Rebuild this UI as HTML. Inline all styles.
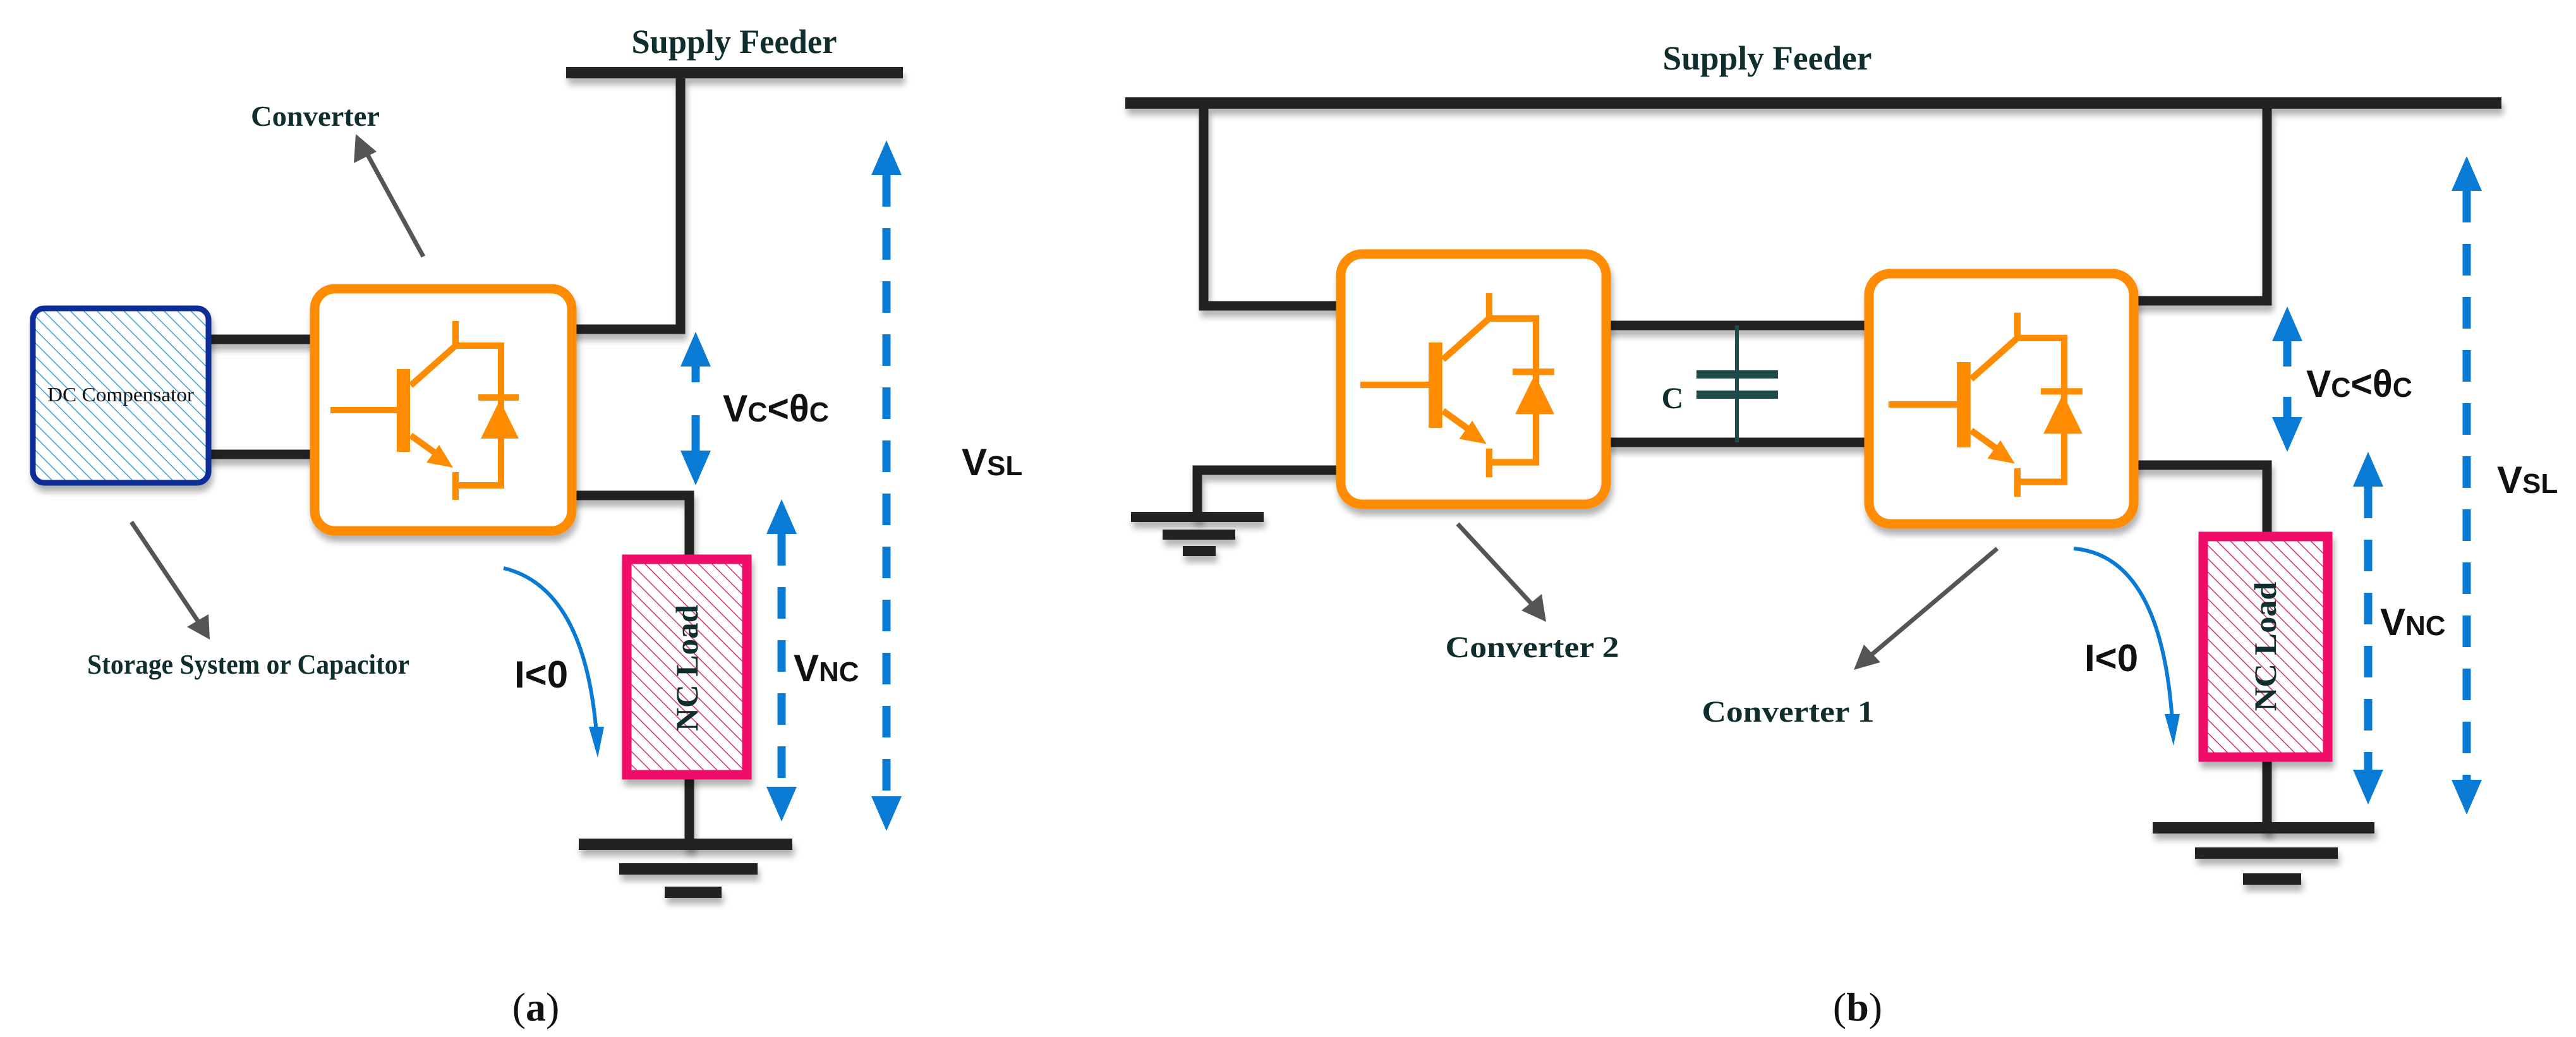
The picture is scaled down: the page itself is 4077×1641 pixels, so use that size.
<!DOCTYPE html>
<html><head><meta charset="utf-8"><style>
html,body{margin:0;padding:0;background:#fff;}
svg{display:block;}
.lbl{font-family:"Liberation Serif",serif;font-weight:bold;fill:#102e2e;}
.v{font-family:"Liberation Sans",sans-serif;font-weight:bold;fill:#111;}
</style></head><body>
<svg width="4077" height="1641" viewBox="0 0 4077 1641" xmlns="http://www.w3.org/2000/svg">
<defs>
<filter id="sh" x="-10%" y="-10%" width="120%" height="130%"><feDropShadow dx="3" dy="10" stdDeviation="5" flood-color="#000" flood-opacity="0.3"/></filter>
<pattern id="hb" patternUnits="userSpaceOnUse" width="15" height="15" patternTransform="rotate(-45)">
<rect width="15" height="15" fill="#fff"/><line x1="0" y1="0" x2="0" y2="15" stroke="#3a9fd8" stroke-width="3"/></pattern>
<pattern id="hp" patternUnits="userSpaceOnUse" width="15" height="15" patternTransform="rotate(-45)">
<rect width="15" height="15" fill="#fff"/><line x1="0" y1="0" x2="0" y2="15" stroke="#d83068" stroke-width="3"/></pattern>
<g id="igbt">
<g stroke="#ff8c00" stroke-width="10" fill="none">
<line x1="32" y1="199" x2="145" y2="199"/>
<line x1="159" y1="160" x2="230" y2="97"/>
<line x1="230" y1="97" x2="230" y2="58"/>
<polyline points="230,97 302,97 302,318 230,318"/>
<line x1="230" y1="297" x2="230" y2="341"/>
<line x1="159" y1="239" x2="205" y2="272"/>
<line x1="266" y1="179" x2="330" y2="179"/>
</g>
<rect x="137" y="134" width="21" height="131" fill="#ff8c00"/>
<polygon points="226,290 184,282 204,254" fill="#ff8c00"/>
<polygon points="300,183 270,244 330,244" fill="#ff8c00"/>
</g>
<g id="dn"><polygon points="-24,0 24,0 0,55" fill="#0a7bd4"/></g>
<g id="up"><polygon points="-24,0 24,0 0,-55" fill="#0a7bd4"/></g>
</defs>

<!-- ===== Panel (a) ===== -->
<text class="lbl" x="1162" y="84" font-size="54" text-anchor="middle" textLength="325" lengthAdjust="spacingAndGlyphs">Supply Feeder</text>
<g stroke="#222" stroke-width="15" fill="none" stroke-linecap="square" filter="url(#sh)">
<line x1="905" y1="115" x2="1420" y2="115" stroke-width="18"/>
<polyline points="912,521 1077,521 1077,116"/>
<line x1="334" y1="537" x2="491" y2="537"/>
<line x1="334" y1="719" x2="491" y2="719"/>
<polyline points="912,784 1091,784 1091,878"/>
<line x1="1091" y1="1233" x2="1091" y2="1336"/>
</g>
<g fill="#222" filter="url(#sh)">
<rect x="916" y="1327" width="338" height="18"/>
<rect x="980" y="1366" width="219" height="18"/>
<rect x="1052" y="1403" width="90" height="18"/>
</g>

<rect x="52" y="488" width="278" height="276" rx="18" fill="url(#hb)" stroke="#0b2f96" stroke-width="9" filter="url(#sh)"/>
<text x="191" y="635" font-family="Liberation Serif,serif" font-size="32" text-anchor="middle" fill="#111" textLength="232" lengthAdjust="spacingAndGlyphs">DC Compensator</text>

<rect x="498" y="457" width="407" height="383" rx="32" fill="#fff" stroke="#ff8c00" stroke-width="15" filter="url(#sh)"/>
<use href="#igbt" transform="translate(491,450)"/>

<rect x="992" y="885" width="190" height="341" fill="url(#hp)" stroke="#f0106a" stroke-width="15" filter="url(#sh)"/>
<text class="lbl" transform="translate(1104,1057) rotate(-90)" font-size="50" text-anchor="middle" fill="#111" textLength="200" lengthAdjust="spacingAndGlyphs">NC Load</text>

<text class="lbl" x="499" y="199" font-size="46" text-anchor="middle" textLength="204" lengthAdjust="spacingAndGlyphs">Converter</text>
<line x1="670" y1="406" x2="578" y2="238" stroke="#555" stroke-width="7"/>
<polygon points="563,212 560,258 596,240" fill="#555"/>
<line x1="208" y1="826" x2="318" y2="990" stroke="#555" stroke-width="7"/>
<polygon points="332,1012 296,992 330,972" fill="#555"/>
<text class="lbl" x="393" y="1066" font-size="44" text-anchor="middle" textLength="510" lengthAdjust="spacingAndGlyphs">Storage System or Capacitor</text>

<line x1="1101" y1="570" x2="1101" y2="605" stroke="#0a7bd4" stroke-width="13"/>
<line x1="1101" y1="657" x2="1101" y2="715" stroke="#0a7bd4" stroke-width="13"/>
<use href="#up" transform="translate(1101,580)"/>
<use href="#dn" transform="translate(1101,713)"/>
<text class="v" x="1144" y="667" font-size="60" textLength="168" lengthAdjust="spacingAndGlyphs">V<tspan font-size="44">C</tspan>&lt;θ<tspan font-size="44">C</tspan></text>
<line x1="1237" y1="845" x2="1237" y2="1245" stroke="#0a7bd4" stroke-width="13" stroke-dasharray="50,34"/>
<use href="#up" transform="translate(1237,845)"/>
<use href="#dn" transform="translate(1237,1245)"/>
<text class="v" x="1256" y="1078" font-size="60">V<tspan font-size="44">NC</tspan></text>
<line x1="1403" y1="277" x2="1403" y2="1260" stroke="#0a7bd4" stroke-width="13" stroke-dasharray="50,34"/>
<use href="#up" transform="translate(1403,277)"/>
<use href="#dn" transform="translate(1403,1260)"/>
<text class="v" x="1522" y="752" font-size="60">V<tspan font-size="44">SL</tspan></text>
<path d="M797,899 Q925,930 944,1160" fill="none" stroke="#0a7bd4" stroke-width="6"/>
<polygon points="932,1150 956,1150 946,1199" fill="#0a7bd4"/>
<text class="v" x="814" y="1088" font-size="60">I&lt;0</text>

<text x="848" y="1615" font-family="Liberation Serif,serif" font-size="64" text-anchor="middle" fill="#111">(<tspan font-weight="bold">a</tspan>)</text>

<!-- ===== Panel (b) ===== -->
<text class="lbl" x="2797" y="110" font-size="54" text-anchor="middle" textLength="331" lengthAdjust="spacingAndGlyphs">Supply Feeder</text>
<g stroke="#222" stroke-width="15" fill="none" stroke-linecap="square" filter="url(#sh)">
<line x1="1790" y1="163" x2="3950" y2="163" stroke-width="18"/>
<polyline points="2115,484 1905,484 1905,163"/>
<polyline points="2115,744 1895,744 1895,815"/>
<line x1="2549" y1="515" x2="2951" y2="515"/>
<line x1="2549" y1="700" x2="2951" y2="700"/>
<polyline points="3384,476 3588,476 3588,163"/>
<polyline points="3384,736 3588,736 3588,842"/>
<line x1="3588" y1="1205" x2="3588" y2="1310"/>
</g>
<g fill="#222" filter="url(#sh)">
<rect x="1790" y="810" width="210" height="16"/>
<rect x="1840" y="838" width="115" height="16"/>
<rect x="1872" y="864" width="52" height="16"/>
<rect x="3407" y="1301" width="351" height="18"/>
<rect x="3474" y="1341" width="226" height="18"/>
<rect x="3550" y="1382" width="92" height="18"/>
</g>

<line x1="2749" y1="515" x2="2749" y2="700" stroke="#1f4a4a" stroke-width="6"/>
<rect x="2685" y="586" width="129" height="13" fill="#1f4a4a"/>
<rect x="2685" y="618" width="129" height="13" fill="#1f4a4a"/>
<text class="lbl" x="2647" y="646" font-size="48" text-anchor="middle">C</text>

<rect x="2122" y="402" width="420" height="396" rx="34" fill="#fff" stroke="#ff8c00" stroke-width="15" filter="url(#sh)"/>
<use href="#igbt" transform="translate(2120,404) scale(1.03)"/>
<rect x="2958" y="433" width="419" height="396" rx="34" fill="#fff" stroke="#ff8c00" stroke-width="15" filter="url(#sh)"/>
<use href="#igbt" transform="translate(2956,435) scale(1.03)"/>

<rect x="3487" y="849" width="197" height="349" fill="url(#hp)" stroke="#f0106a" stroke-width="15" filter="url(#sh)"/>
<text class="lbl" transform="translate(3602,1023) rotate(-90)" font-size="50" text-anchor="middle" fill="#111" textLength="205" lengthAdjust="spacingAndGlyphs">NC Load</text>

<line x1="2307" y1="829" x2="2430" y2="962" stroke="#555" stroke-width="7"/>
<polygon points="2447,984 2408,966 2440,940" fill="#555"/>
<text class="lbl" x="2425" y="1040" font-size="48" text-anchor="middle" textLength="275" lengthAdjust="spacingAndGlyphs">Converter 2</text>
<line x1="3161" y1="868" x2="2955" y2="1042" stroke="#555" stroke-width="7"/>
<polygon points="2934,1060 2950,1020 2976,1048" fill="#555"/>
<text class="lbl" x="2830" y="1142" font-size="48" text-anchor="middle" textLength="273" lengthAdjust="spacingAndGlyphs">Converter 1</text>

<line x1="3620" y1="530" x2="3620" y2="580" stroke="#0a7bd4" stroke-width="13"/>
<line x1="3620" y1="628" x2="3620" y2="665" stroke="#0a7bd4" stroke-width="13"/>
<use href="#up" transform="translate(3620,540)"/>
<use href="#dn" transform="translate(3620,660)"/>
<text class="v" x="3650" y="628" font-size="60" textLength="168" lengthAdjust="spacingAndGlyphs">V<tspan font-size="44">C</tspan>&lt;θ<tspan font-size="44">C</tspan></text>
<line x1="3748" y1="770" x2="3748" y2="1220" stroke="#0a7bd4" stroke-width="13" stroke-dasharray="50,34"/>
<use href="#up" transform="translate(3748,770)"/>
<use href="#dn" transform="translate(3748,1218)"/>
<text class="v" x="3767" y="1005" font-size="60">V<tspan font-size="44">NC</tspan></text>
<line x1="3904" y1="302" x2="3904" y2="1235" stroke="#0a7bd4" stroke-width="13" stroke-dasharray="50,34"/>
<use href="#up" transform="translate(3904,302)"/>
<use href="#dn" transform="translate(3904,1234)"/>
<text class="v" x="3952" y="780" font-size="60">V<tspan font-size="44">SL</tspan></text>
<path d="M3282,868 Q3420,880 3438,1140" fill="none" stroke="#0a7bd4" stroke-width="6"/>
<polygon points="3426,1130 3450,1130 3440,1180" fill="#0a7bd4"/>
<text class="v" x="3299" y="1062" font-size="60">I&lt;0</text>

<text x="2940" y="1615" font-family="Liberation Serif,serif" font-size="64" text-anchor="middle" fill="#111">(<tspan font-weight="bold">b</tspan>)</text>
</svg>
</body></html>
